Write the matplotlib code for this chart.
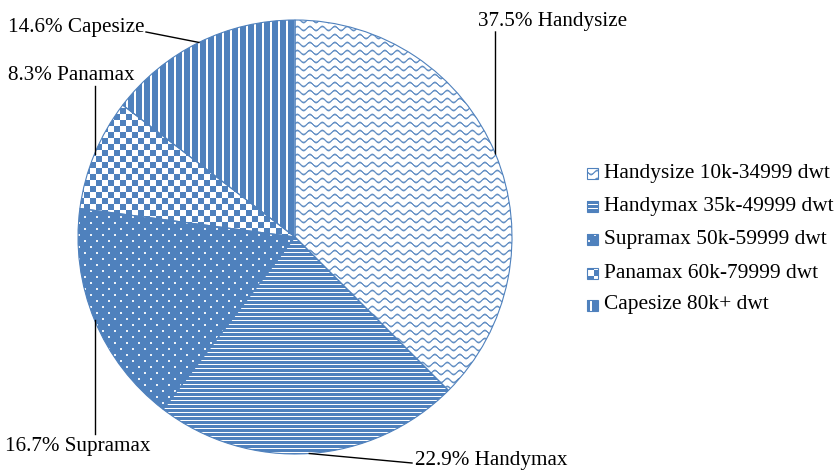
import numpy as np
import matplotlib
matplotlib.use('Agg')
import matplotlib.pyplot as plt
from matplotlib.patches import Rectangle

categories = ['Handysize', 'Handymax', 'Supramax', 'Panamax', 'Capesize']
legend_labels = ['Handysize 10k-34999 dwt', 'Handymax 35k-49999 dwt',
                 'Supramax 50k-59999 dwt', 'Panamax 60k-79999 dwt',
                 'Capesize 80k+ dwt']
shares = [37.5, 22.9, 16.7, 8.3, 14.6]

W, H = 839, 474
BLUE_HEX = '#4F81BD'
BLUE = np.array([0x4F, 0x81, 0xBD]) / 255.0
WHITE = np.ones(3)
FONT = 'Liberation Serif'

fig = plt.figure(figsize=(W / 100, H / 100), dpi=100)
ax = fig.add_axes([0, 0, 1, 1])

cx, cy_s, R = 295, 237, 217
wedges, _ = ax.pie(shares, startangle=90, counterclock=False,
                   center=(cx, H - cy_s), radius=R, frame=True,
                   wedgeprops=dict(facecolor='none', edgecolor=BLUE_HEX,
                                   linewidth=0.8, zorder=3))

rr, cc = np.mgrid[0:H, 0:W].astype(float)


def mix(m):
    return WHITE * (1 - m[..., None]) + BLUE * m[..., None]


def pat_wave(r, c):
    d = np.mod(r - 2.0 * np.sin(2 * np.pi * c / 12.5), 8.0)
    return np.clip(1.4 - np.abs(d - 4), 0, 1) * 0.88


def pat_hlines(r, c):
    return np.where(np.mod(r, 4) < 1, 0.0, 1.0)


def pat_dots(r, c):
    dot = ((np.mod(r, 12) < 2) & (np.mod(c, 12) < 2)) | \
          ((np.mod(r - 6, 12) < 2) & (np.mod(c - 6, 12) < 2))
    return np.where(dot, 0.1, 1.0)


def pat_checker(r, c):
    return np.where((np.floor(r / 6) + np.floor(c / 6)) % 2 == 0, 1.0, 0.0)


def pat_vlines(r, c):
    return np.where(np.mod(c, 8) < 6, 1.0, 0.0)


patterns = [pat_wave, pat_hlines, pat_dots, pat_checker, pat_vlines]
images = [mix(p(rr, cc)) for p in patterns]

# pattern fills clipped to wedges
for w, img in zip(wedges, images):
    im = ax.imshow(img, extent=(0, W, 0, H), origin='upper',
                   interpolation='nearest', zorder=1)
    im.set_clip_path(w)

# labels with leader lines
label_pos = [(478, 21), (415, 460), (5, 446), (8, 75), (8, 27)]
leader_end = [(495.5, 32), (412, 463), (None, 434), (None, 86), (146, 32)]
cum = np.cumsum([0] + shares)
total = cum[-1]
for i, cat in enumerate(categories):
    mid = (cum[i] + cum[i + 1]) / 2 / total * 2 * np.pi
    ax_x = cx + R * np.sin(mid)
    ax_y = cy_s - R * np.cos(mid)
    ex, ey = leader_end[i]
    if ex is None:
        ex = ax_x
    ax.plot([ax_x, ex], [H - ax_y, H - ey], color='black', lw=1.0, zorder=4)
    tx, ty = label_pos[i]
    ax.text(tx, H - ty, f'{shares[i]}% {cat}', ha='left', va='center',
            fontsize=15.2, family=FONT, color='black', zorder=5)

# legend
leg_y = [173, 206, 239, 273, 305]
mk_x, mk_s = 587, 11
for i, lab in enumerate(legend_labels):
    y = leg_y[i]
    rect = Rectangle((mk_x, H - y - mk_s / 2), mk_s, mk_s, facecolor='none',
                     edgecolor=BLUE_HEX, linewidth=0.8, zorder=3)
    ax.add_patch(rect)
    im = ax.imshow(images[i], extent=(0, W, 0, H), origin='upper',
                   interpolation='nearest', zorder=1)
    im.set_clip_path(rect)
    ax.text(604, H - y, lab, ha='left', va='center', fontsize=15.4,
            family=FONT, color='black')

ax.set_xlim(0, W)
ax.set_ylim(0, H)
ax.axis('off')
fig.savefig('out.png', dpi=100)
